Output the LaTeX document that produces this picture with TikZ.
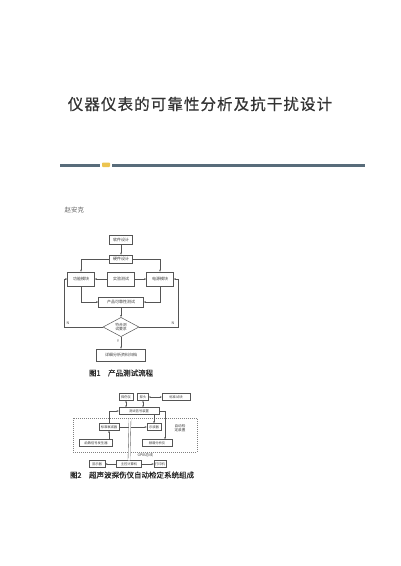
\documentclass[tikz,border=0pt]{standalone}
\usepackage{fontspec}
\setmainfont{Noto Sans CJK SC}
\newfontfamily\titlefont[LetterSpace=7, FakeBold=0.6]{Noto Sans CJK SC}
\newfontfamily\capfont[FakeBold=0.5]{Noto Sans CJK SC}
\usetikzlibrary{shapes.geometric, arrows.meta}
\definecolor{rulegray}{RGB}{88,108,122}
\definecolor{markyellow}{RGB}{236,196,80}
\definecolor{boxgray}{RGB}{85,85,85}
\definecolor{textgray}{RGB}{60,60,60}
\tikzset{
    flowbox/.style={rectangle, draw=boxgray, line width=0.5pt, fill=white, inner sep=0pt, minimum width=27pt, minimum height=14pt, font=\fontsize{4}{5}\selectfont, text=textgray},
    decision/.style={diamond, draw=boxgray, line width=0.5pt, fill=white, inner sep=0pt, minimum width=36pt, minimum height=17pt, align=center, font=\fontsize{3.8}{4.4}\selectfont, text=textgray},
    devbox/.style={rectangle, draw=boxgray, line width=0.4pt, fill=white, inner sep=0pt, minimum height=7pt, font=\fontsize{3.3}{4}\selectfont, text=textgray},
    arrow/.style={-{Stealth[length=2.2pt, width=1.8pt]}, line width=0.4pt, boxgray},
    twoway/.style={{Stealth[length=2pt, width=1.6pt]}-{Stealth[length=2pt, width=1.6pt]}, line width=0.4pt, boxgray},
    bus/.style={draw=boxgray, double=white, double distance=1.6pt, line width=0.35pt},
    dashframe/.style={draw=black!50, line width=0.4pt, dash pattern=on 1pt off 1pt},
    figcaption/.style={font=\capfont\fontsize{7.5}{9}\selectfont, text=black!85},
    smalltag/.style={font=\fontsize{3.6}{4.2}\selectfont, text=textgray},
}

\begin{document}
\begin{tikzpicture}[x=1pt, y=-1pt]
    \useasboundingbox (0,0) rectangle (400,566);
    % title and rule
    \node[font=\titlefont\fontsize{15.5}{18}\selectfont, text=black!80] (title) at (200,104) {仪器仪表的可靠性分析及抗干扰设计};
    \draw[line width=3pt, rulegray] (60,165) -- (100,165);
    \draw[line width=3pt, rulegray] (112,165) -- (365,165);
    \fill[markyellow, rounded corners=0.8pt] (102,162.5) rectangle (110,167);
    \node[font=\fontsize{6.5}{8}\selectfont, text=black!60, anchor=west] (author) at (61,210) {赵安克};

    % figure 1
    \node[flowbox, minimum width=23pt, minimum height=9pt] (soft) at (121,240) {软件设计};
    \node[flowbox, minimum width=23pt, minimum height=8pt] (hard) at (121,259) {硬件设计};
    \node[flowbox] (func) at (81,279) {功能模块};
    \node[flowbox] (expt) at (121,279) {实验测试};
    \node[flowbox] (power) at (160,279) {电源模块};
    \node[flowbox, minimum width=45pt, minimum height=10pt] (relia) at (121,302) {产品可靠性测试};
    \node[decision] (meet) at (121,327) {符合测\\试要求};
    \node[flowbox, minimum width=49pt, minimum height=12pt] (archive) at (121,355) {详细分析资料归档};
    \coordinate (nleft) at (64,327);
    \coordinate (nright) at (178,327);
    \draw[arrow] (soft) -- (hard);
    \draw[arrow] (hard.west) -| (func.north);
    \draw[arrow] (hard.east) -| (power.north);
    \draw[arrow] (expt) -- (func);
    \draw[arrow] (expt) -- (power);
    \draw[arrow] (func.south) |- (relia.west);
    \draw[arrow] (power.south) |- (relia.east);
    \draw[arrow] (relia) -- (meet);
    \draw[arrow] (meet.west) -- (nleft) |- (func.west);
    \draw[arrow] (meet.east) -- (nright) |- (power.east);
    \draw[arrow] (meet) -- (archive);
    \node[smalltag] (nl) at (68,323) {N};
    \node[smalltag] (nr) at (173,323) {N};
    \node[smalltag] (yes) at (118,341) {Y};
    \node[figcaption] (cap1) at (121,373) {图1\quad 产品测试流程};

    % figure 2
    \node[devbox, minimum width=14pt] (flaw) at (126,397) {探伤仪};
    \node[devbox, minimum width=11pt] (probe) at (143,397) {探头};
    \node[devbox, minimum width=28pt] (block) at (176,397) {标准试块};
    \node[devbox, minimum width=40pt] (signal) at (139,411) {测试信号装置};
    \draw[dashframe] (73,418) rectangle (197,452);
    \node[smalltag, align=left] (auto) at (180,428) {自动检\\定装置};
    \node[devbox, minimum width=20pt] (atten) at (109,427) {标准衰减器};
    \node[devbox, minimum width=14pt] (scope) at (154,427) {示波器};
    \node[devbox, minimum width=33pt] (gen) at (96,443) {函数信号发生器};
    \node[devbox, minimum width=30pt] (spec) at (157,443) {频谱分析仪};
    \node[devbox, minimum width=25pt] (pc) at (129,464) {主控计算机};
    \node[devbox, minimum width=16pt] (screen) at (97,464) {显示器};
    \node[devbox, minimum width=12pt] (printer) at (160,464) {打印机};
    \coordinate (bustop) at (130,419);
    \draw[twoway] (flaw.south) -- (flaw.south |- signal.north);
    \draw[twoway] (probe.south) -- (probe.south |- signal.north);
    \draw[twoway] (probe) -- (block);
    \draw[arrow] (atten.north) |- (signal.west);
    \draw[arrow] (signal.east) -| ([xshift=8pt]spec.north);
    \draw[arrow] (signal.south -| scope.north) -- (scope.north);
    \draw[arrow] (atten) -- (scope);
    \draw[arrow] (gen.north -| atten.south) -- (atten.south);
    \draw[bus] (gen) -- (spec);
    \draw[bus] (bustop) -- (pc.north);
    \draw[arrow] (pc) -- (screen);
    \draw[arrow] (pc) -- (printer);
    \node[smalltag, anchor=west] (gpib) at (134,455) {GPIB总线};
    \node[figcaption] (cap2) at (132,475) {图2\quad 超声波探伤仪自动检定系统组成};
\end{tikzpicture}
\end{document}
